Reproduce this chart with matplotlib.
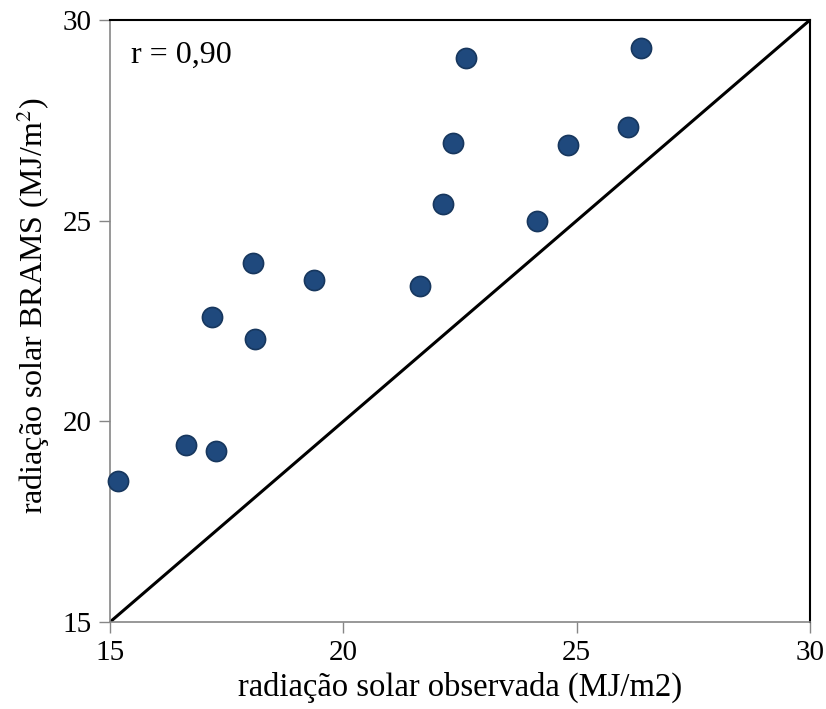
import matplotlib
matplotlib.use('Agg')
import matplotlib.pyplot as plt

plt.rcParams['font.family'] = ['Liberation Serif', 'DejaVu Serif']
plt.rcParams['mathtext.fontset'] = 'stix'

observada = [15.17, 16.63, 17.27, 17.19, 18.11, 18.06, 19.37, 21.64, 22.14,
             22.35, 22.63, 24.15, 24.81, 26.10, 26.38]
brams = [18.51, 19.41, 19.26, 22.60, 22.05, 23.95, 23.52, 23.37, 25.42,
         26.94, 29.05, 24.99, 26.89, 27.33, 29.30]
ticks = [15, 20, 25, 30]

fig = plt.figure(figsize=(8.26, 7.09), dpi=100)
ax = fig.add_axes([0.1332, 0.1227, 0.8474, 0.8491])

ax.plot([15, 30], [15, 30], color='black', lw=2.2, zorder=2)
ax.scatter(observada, brams, s=210, color='#1F497D', edgecolors='#17375E',
           linewidths=1.2, zorder=3, clip_on=False)

ax.set_xlim(15, 30)
ax.set_ylim(15, 30)
ax.set_xticks(ticks)
ax.set_yticks(ticks)
ax.tick_params(direction='out', length=8, width=1, color='#868686',
               labelsize=21, pad=5)

for s in ['left', 'bottom']:
    ax.spines[s].set_color('#868686')
    ax.spines[s].set_linewidth(1.2)
for s in ['top', 'right']:
    ax.spines[s].set_color('black')
    ax.spines[s].set_linewidth(1.5)

ax.set_xlabel('radiação solar observada (MJ/m2)', fontsize=23.5, labelpad=4)
ax.set_ylabel('radiação solar BRAMS (MJ/m$^2$)', fontsize=23)
ax.yaxis.set_label_coords(-0.083, 0.525)
ax.text(0.03, 0.965, 'r = 0,90', transform=ax.transAxes, fontsize=23,
        ha='left', va='top')

fig.savefig('out.png', dpi=100)
